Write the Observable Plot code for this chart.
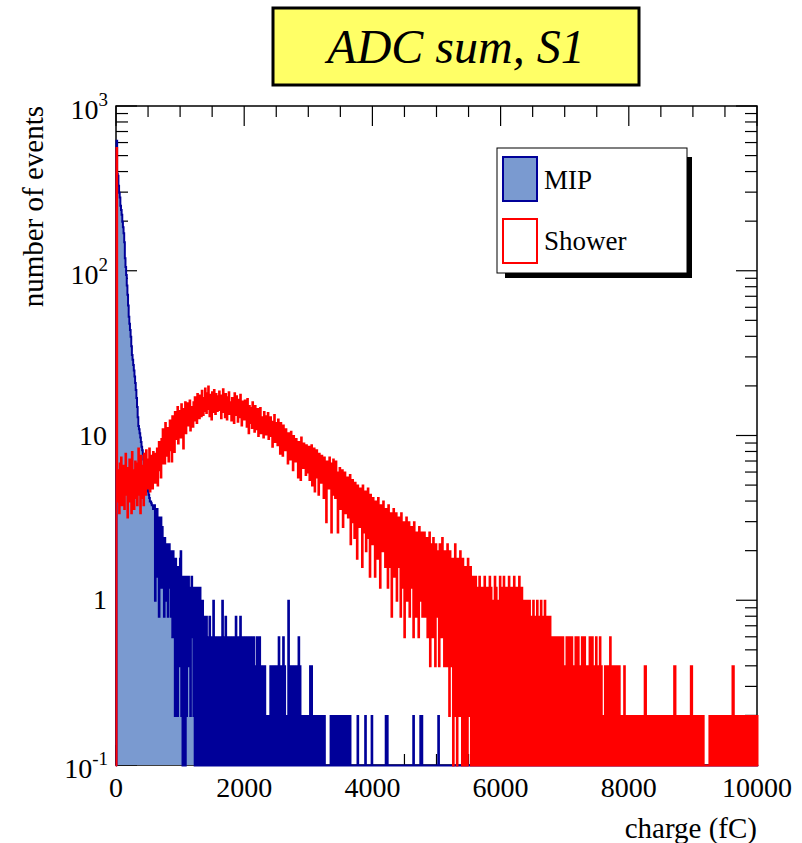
<!DOCTYPE html>
<html><head><meta charset="utf-8">
<script src="https://cdn.jsdelivr.net/npm/d3@7"></script>
<script src="https://cdn.jsdelivr.net/npm/@observablehq/plot@0.6"></script>
<style>body{margin:0;background:#fff;} svg{display:block}</style>
</head><body><div id="chart"></div>
<script>
// ---------------- data ----------------
const binWidth = 10; // fC per bin
const nBins = 1000;  // 0 .. 10000 fC
const seriesNames = ["MIP", "Shower"];
const chartTitle = "ADC sum, S1";
const xLabel = "charge (fC)";
const yLabel = "number of events";
const xDomain = [0, 10000];
const yDomain = [0.1, 1000];
const xMajorTicks = [0, 2000, 4000, 6000, 8000, 10000];
const xTickLabels = ["0", "2000", "4000", "6000", "8000", "10000"];
const xMinorStep = 500;
const yMajorTicks = [0.1, 1, 10, 100, 1000];
const yTickBase = ["10", "1", "10", "10", "10"];
const yTickExp = ["-1", "", "", "2", "3"];

// MIP counts per 10 fC bin from 0 fC (bins after the list are empty)
const mipCounts = [
  620, 390, 380, 330, 300, 280, 250, 235, 220, 200, 185, 170, 150, 120, 106, 95, 82, 72, 62, 53,
  48, 44, 40, 35, 31, 29, 27, 25, 23, 21, 19, 17, 15, 13, 11.5, 11, 10.4, 9.8, 9.2, 8.6,
  8.2, 7.8, 7.2, 6.8, 6.4, 5.8, 5.4, 5.0, 4.8, 4.6, 4.4, 4.2, 4.0, 4.0, 3.9, 3.8, 3.8, 3.6, 3.6, 3.8,
  1.0, 3.4, 2.2, 3.6, 1.4, 3.2, 0.8, 3.0, 2.0, 3.2, 1.2, 2.8, 1.6, 2.2, 0.8, 2.4, 1.4, 2.0, 1.0, 2.2,
  0.8, 1.8, 2.2, 1.2, 2.0, 0.8, 1.8, 0.6, 2.0, 1.0, 1.6, 0.2, 1.8, 0.6, 1.4, 0.2, 1.6, 1.0, 0.4, 1.8,
  2.0, 0.2, 1.4, 0, 1.2, 0.4, 1.4, 0, 1.4, 0.2, 1.2, 0.8, 1.4, 0.4, 1.2, 0.2, 1.0, 1.4, 0.6, 1.2,
  0.2, 1.0, 0, 1.2, 0, 0.8, 1.2, 0, 1.0, 0.4, 1.2, 0, 0.8, 0.2, 1.0, 0, 0.8, 0.6, 0, 0.8,
  0.8, 0, 0.6, 0.4, 0, 0.8, 0.2, 0.6, 0, 0.6, 0.4, 1.0, 0, 0.6, 0.4, 0, 0.6, 0.2, 0.4, 0,
  0.6, 0.4, 0, 0.6, 0.2, 1.0, 0, 0.6, 0.4, 0, 0.8, 0.4, 0, 0.6, 0.2, 0.4, 0, 0.6, 0.4, 0,
  0.6, 0.2, 0, 0.6, 0.4, 0, 0.8, 0.2, 0.6, 0, 0.4, 0.6, 0, 0.8, 0.4, 0, 0.6, 0.2, 0.4, 0,
  0.6, 0.4, 0, 0.6, 0.2, 0.4, 0, 0.6, 0, 0.4, 0.2, 0.6, 0, 0.4, 0.6, 0, 0.2, 0.4, 0, 0.6,
  0.2, 0, 0.4, 0.6, 0, 0.4, 0.2, 0, 0.4, 0, 0.2, 0.4, 0, 0.2, 0, 0.2, 0.2, 0, 0.2, 0,
  0.4, 0, 0.2, 0.4, 0, 0.2, 0.4, 0, 0.4, 0.2, 0, 0.4, 0, 0.6, 0.4, 0, 0.4, 0.2, 0, 0.4,
  0.6, 0, 0.4, 0.2, 0, 0.2, 0, 0.2, 1.0, 0.4, 0, 0.4, 0.2, 0, 0.4, 0.2, 0.4, 0, 0.2, 0,
  0.4, 0, 0.2, 0.4, 0.6, 0, 0.4, 0, 0.2, 0, 0.2, 0, 0.2, 0.2, 0, 0.2, 0, 0.2, 0, 0.2,
  0, 0.2, 0.4, 0, 0.4, 0.2, 0, 0.2, 0, 0.2, 0, 0.2, 0, 0.2, 0.2, 0, 0.2, 0, 0.2, 0,
  0.2, 0, 0.2, 0, 0.2, 0, 0, 0, 0, 0, 0, 0, 0, 0, 0.2, 0, 0.2, 0.2, 0, 0.2,
  0, 0.2, 0, 0.2, 0.2, 0, 0.2, 0, 0.2, 0, 0.2, 0.2, 0, 0.2, 0, 0.2, 0, 0.2, 0, 0.2,
  0.2, 0, 0.2, 0, 0.2, 0, 0, 0, 0, 0, 0, 0, 0, 0, 0, 0, 0.2, 0, 0, 0,
  0, 0, 0, 0, 0, 0, 0, 0, 0.2, 0, 0, 0, 0, 0, 0, 0, 0, 0, 0.2, 0,
  0, 0, 0, 0, 0, 0, 0, 0, 0, 0, 0, 0, 0, 0, 0, 0, 0, 0, 0, 0,
  0.2, 0, 0.2, 0, 0, 0, 0, 0, 0, 0, 0, 0, 0, 0, 0, 0, 0, 0, 0, 0,
  0, 0, 0, 0, 0, 0, 0, 0, 0, 0, 0, 0, 0, 0, 0, 0, 0, 0, 0, 0,
  0, 0, 0, 0.2, 0, 0, 0, 0, 0, 0, 0, 0, 0, 0, 0.2, 0, 0.2, 0, 0, 0,
  0, 0, 0, 0, 0, 0, 0, 0, 0, 0, 0, 0, 0, 0, 0, 0, 0, 0, 0, 0,
  0, 0, 0.2
];

// Shower counts per 10 fC bin, 0 .. 10000 fC
const showerCounts = [
  560, 6.2, 4.0, 5.4, 3.4, 6.8, 4.6, 7.4, 3.8, 5.8, 4.2, 6.6, 3.6, 5.2, 7.8, 4.4, 5.6, 3.2, 6.4, 4.8,
  7.2, 4.0, 5.8, 3.4, 8.0, 4.6, 6.2, 3.6, 5.4, 7.0, 4.2, 6.8, 3.8, 5.2, 8.4, 4.4, 6.0, 3.4, 7.6, 5.0,
  4.2, 6.6, 3.8, 7.8, 5.0, 4.4, 8.2, 5.6, 4.8, 7.2, 5.2, 8.4, 4.6, 6.4, 5.0, 7.6, 4.8, 8.0, 5.4, 6.6,
  5.2, 7.8, 6.0, 8.4, 5.0, 7.0, 9.2, 6.2, 8.0, 5.6, 9.6, 6.8, 11.0, 7.2, 9.0, 6.8, 12.0, 7.6, 10.4, 8.0,
  11.2, 7.0, 9.8, 12.4, 8.2, 10.6, 7.0, 13.2, 9.4, 11.8, 8.0, 14.0, 9.6, 12.6, 10.2, 15.0, 9.0, 12.8, 10.6, 14.2,
  9.8, 15.6, 11.0, 13.8, 8.4, 14.6, 12.0, 16.0, 10.4, 13.4, 15.8, 11.6, 14.2, 12.0, 16.4, 10.8, 15.0, 12.6, 14.8, 11.4,
  16.0, 12.4, 17.2, 13.6, 15.4, 12.0, 18.0, 14.0, 16.6, 12.8, 17.6, 14.6, 13.2, 18.8, 15.0, 13.4, 17.0, 14.2, 19.4, 15.6,
  13.8, 18.2, 14.6, 20.0, 15.4, 13.2, 17.8, 15.0, 12.6, 18.4, 16.2, 14.0, 19.0, 15.6, 13.6, 18.0, 16.4, 14.2, 17.4, 15.2,
  18.6, 14.4, 16.8, 12.8, 17.6, 15.2, 19.2, 14.0, 16.4, 13.0, 18.0, 15.6, 12.6, 17.2, 14.8, 18.4, 13.6, 16.0, 15.2, 12.4,
  17.0, 14.2, 16.0, 12.0, 18.2, 15.0, 13.4, 17.4, 14.6, 12.2, 16.6, 15.4, 13.0, 17.8, 14.0, 11.6, 16.2, 13.8, 15.4, 12.6,
  16.4, 13.0, 15.0, 11.4, 16.8, 13.6, 10.4, 15.2, 13.4, 12.0, 14.8, 11.2, 16.0, 12.6, 14.4, 10.6, 15.2, 12.2, 13.8, 11.0,
  14.6, 10.0, 13.6, 12.0, 14.8, 10.4, 13.0, 11.4, 12.6, 9.8, 14.0, 11.8, 13.2, 10.2, 12.8, 11.0, 13.8, 9.6, 12.4, 10.8,
  13.0, 10.0, 12.2, 8.6, 11.8, 10.4, 13.4, 9.2, 12.0, 10.6, 11.4, 8.8, 12.6, 9.6, 11.0, 7.8, 12.0, 10.2, 11.2, 7.6,
  11.6, 9.0, 10.6, 8.2, 11.0, 9.4, 10.2, 6.8, 10.4, 8.6, 9.8, 7.2, 10.6, 8.4, 9.6, 6.2, 10.0, 7.8, 9.2, 7.0,
  9.6, 7.4, 8.8, 5.6, 9.2, 7.8, 8.4, 5.4, 9.8, 7.0, 8.6, 6.4, 9.0, 7.2, 8.2, 5.8, 8.8, 6.6, 7.8, 6.0,
  8.6, 5.4, 8.0, 6.6, 8.8, 5.0, 7.6, 6.2, 8.4, 4.6, 7.4, 6.0, 8.2, 5.6, 7.0, 4.4, 7.8, 6.2, 7.2, 5.2,
  7.6, 5.8, 6.8, 4.2, 7.4, 5.4, 6.6, 3.0, 7.0, 5.6, 6.4, 4.8, 7.4, 5.2, 6.2, 2.6, 6.8, 5.0, 7.2, 4.4,
  6.6, 4.2, 7.0, 5.0, 6.0, 2.6, 5.8, 4.4, 6.4, 3.6, 5.6, 4.0, 6.2, 2.8, 5.4, 4.6, 6.0, 3.4, 5.2, 3.8,
  5.6, 3.2, 5.0, 4.2, 5.8, 2.2, 4.8, 3.6, 5.4, 3.0, 4.6, 2.4, 5.2, 3.8, 4.4, 1.8, 5.0, 3.4, 4.6, 2.8,
  4.8, 3.0, 4.4, 1.6, 5.0, 3.4, 4.2, 2.6, 4.6, 2.0, 4.0, 3.2, 4.8, 2.4, 3.8, 1.4, 4.4, 3.0, 4.0, 2.2,
  4.2, 2.6, 3.6, 1.4, 4.0, 2.8, 3.4, 1.8, 4.2, 2.4, 3.6, 1.2, 3.8, 2.6, 3.2, 2.0, 4.0, 2.2, 3.4, 1.6,
  3.6, 2.2, 3.2, 1.2, 3.8, 2.4, 3.0, 1.6, 3.4, 0.8, 3.2, 2.0, 3.6, 1.4, 2.8, 2.2, 3.4, 1.0, 3.0, 1.8,
  3.2, 1.6, 3.0, 0.8, 3.4, 1.8, 2.6, 1.2, 3.0, 0.6, 2.8, 1.6, 3.2, 1.0, 2.4, 1.8, 3.0, 0.8, 2.6, 1.4,
  2.8, 1.2, 2.6, 0.6, 3.0, 1.4, 2.2, 0.8, 2.6, 1.6, 2.4, 0.6, 2.8, 1.0, 2.0, 1.4, 2.6, 0.8, 2.2, 1.2,
  2.6, 0.8, 2.2, 1.2, 2.4, 0.6, 2.0, 1.4, 2.6, 0.4, 2.2, 1.0, 1.8, 0.6, 2.4, 1.2, 2.0, 0.4, 2.2, 1.0,
  2.0, 0.8, 1.8, 0.4, 2.2, 1.0, 1.6, 0.6, 2.4, 0.8, 1.8, 0.4, 2.0, 1.2, 1.6, 0.4, 2.2, 0.6, 1.8, 0.2,
  2.0, 0.4, 1.6, 0.8, 1.8, 0, 1.4, 0.6, 2.2, 0.2, 1.6, 0, 1.8, 0.6, 1.4, 0.2, 2.0, 0.4, 1.6, 0,
  1.8, 0.4, 1.2, 0, 1.6, 0.6, 1.4, 0, 1.8, 0.2, 1.2, 0.4, 1.6, 0, 1.0, 0.6, 1.4, 0, 1.2, 0.2,
  1.4, 0, 1.2, 0.4, 1.0, 0, 1.4, 0.2, 0.8, 0, 1.2, 0.4, 1.0, 0, 1.4, 0, 0.8, 0.4, 1.2, 0,
  1.0, 0.2, 1.4, 0, 1.2, 0.4, 0.8, 0, 1.0, 0, 1.4, 0.2, 1.2, 0, 0.8, 0.4, 1.0, 0, 1.4, 0,
  1.2, 0, 1.0, 0.4, 1.4, 0, 0.8, 0.2, 1.2, 0, 1.0, 0, 1.4, 0.4, 0.8, 0, 1.2, 0.2, 1.0, 0,
  1.4, 0, 0.8, 0.2, 1.2, 0, 1.0, 0.4, 1.4, 0, 0.8, 0, 1.2, 0.2, 1.0, 0, 0.6, 0.4, 1.0, 0,
  1.0, 0, 0.6, 0.2, 1.0, 0, 0.8, 0, 0.6, 0.4, 1.0, 0, 0.8, 0.2, 0.6, 0, 1.0, 0, 0.8, 0.2,
  0.6, 0, 1.0, 0.2, 0.8, 0, 0.6, 0, 1.0, 0.4, 0.6, 0, 0.8, 0, 0.6, 0.2, 0.8, 0, 0.6, 0,
  0.6, 0.2, 0.4, 0, 0.6, 0, 0.4, 0.2, 0.6, 0, 0.4, 0, 0.6, 0.2, 0.4, 0, 0.6, 0, 0.4, 0,
  0.4, 0.2, 0.6, 0, 0.4, 0, 0.6, 0.2, 0.4, 0, 0.6, 0, 0.4, 0.2, 0.4, 0, 0.6, 0, 0.2, 0,
  0.6, 0, 0.4, 0.2, 0.4, 0, 0.6, 0, 0.2, 0.4, 0.6, 0, 0.4, 0, 0.2, 0, 0.4, 0.2, 0.6, 0,
  0.4, 0, 0.6, 0.2, 0.4, 0, 0.2, 0.4, 0.6, 0, 0.4, 0, 0.2, 0, 0.6, 0.4, 0.4, 0, 0.2, 0,
  0.2, 0, 0.4, 0.2, 0, 0.2, 0.4, 0, 0.2, 0, 0.6, 0.4, 0.4, 0, 0.2, 0, 0.4, 0.2, 0.2, 0,
  0.4, 0, 0.2, 0, 0.4, 0.2, 0, 0.2, 0, 0.2, 0.2, 0, 0.4, 0, 0.2, 0, 0.2, 0.2, 0, 0.2,
  0, 0.2, 0, 0.2, 0.2, 0, 0.2, 0, 0.2, 0, 0.2, 0.2, 0, 0.2, 0, 0.2, 0, 0.2, 0.2, 0,
  0.2, 0, 0.2, 0, 0.4, 0.4, 0, 0.2, 0, 0.2, 0.2, 0, 0.2, 0, 0.2, 0, 0.2, 0.2, 0, 0.2,
  0, 0.2, 0, 0, 0.2, 0, 0.2, 0.2, 0, 0.2, 0, 0.2, 0, 0.2, 0.2, 0, 0.2, 0, 0.2, 0,
  0.2, 0, 0.2, 0.2, 0, 0.2, 0, 0.2, 0, 0.2, 0.4, 0.4, 0, 0.2, 0, 0.2, 0.2, 0, 0.2, 0,
  0.2, 0, 0.2, 0, 0.2, 0.2, 0, 0.2, 0, 0.2, 0, 0.2, 0, 0.2, 0.2, 0, 0.4, 0.4, 0, 0.2,
  0, 0.2, 0, 0.2, 0.2, 0, 0.2, 0, 0.2, 0, 0.2, 0.2, 0, 0.2, 0, 0.2, 0, 0, 0, 0,
  0, 0, 0, 0, 0, 0.2, 0, 0.2, 0.2, 0, 0.2, 0, 0.2, 0, 0.2, 0.2, 0, 0.2, 0, 0.2,
  0, 0.2, 0.2, 0, 0.2, 0, 0.2, 0, 0.2, 0.2, 0, 0.2, 0, 0.2, 0, 0.2, 0.2, 0, 0.2, 0,
  0.2, 0.4, 0.4, 0, 0.2, 0, 0.2, 0.2, 0, 0.2, 0, 0.2, 0, 0.2, 0.2, 0, 0.2, 0, 0.2, 0,
  0.2, 0, 0.2, 0.2, 0, 0.2, 0, 0.2, 0, 0.2, 0.2, 0, 0.2, 0, 0.2, 0, 0.2, 0.2, 0, 0.2
];

// ---------------- build step outlines ----------------
const floorY = yDomain[0];
function stepPoints(counts) {
  const pts = [{x: 0, y: floorY}];
  for (let i = 0; i < nBins; i++) {
    const c = i < counts.length ? counts[i] : 0;
    const v = Math.max(c, floorY);
    pts.push({x: i * binWidth, y: v}, {x: (i + 1) * binWidth, y: v});
  }
  pts.push({x: nBins * binWidth, y: floorY});
  return pts;
}
const mipPts = stepPoints(mipCounts);
const showerPts = stepPoints(showerCounts);

const FONT = "'Liberation Serif', 'Times New Roman', serif";
const mipFill = "#7a9ad0", mipLine = "#000099", showerLine = "#ff0000";

// frame + ticks (drawn below data)
function frameAndTicks(index, scales, values, dim) {
  const {x, y} = scales;
  const L = dim.marginLeft, R = dim.width - dim.marginRight;
  const T = dim.marginTop, B = dim.height - dim.marginBottom;
  const g = d3.create("svg:g").attr("stroke", "#000").attr("fill", "none");
  g.append("rect").attr("x", L).attr("y", T).attr("width", R - L).attr("height", B - T).attr("stroke-width", 1.5);
  const tg = g.append("g").attr("stroke-width", 1.2);
  d3.range(xDomain[0], xDomain[1] + 1, xMinorStep).forEach(v => {
    const len = xMajorTicks.includes(v) ? 20 : 11;
    const px = x(v);
    tg.append("line").attr("x1", px).attr("x2", px).attr("y1", T).attr("y2", T + len);
    tg.append("line").attr("x1", px).attr("x2", px).attr("y1", B).attr("y2", B - len);
  });
  const yTicks = [];
  yMajorTicks.forEach((d, i) => {
    yTicks.push([d, true]);
    if (i < yMajorTicks.length - 1) for (let k = 2; k <= 9; k++) yTicks.push([d * k, false]);
  });
  yTicks.forEach(([v, major]) => {
    const len = major ? 21 : 12;
    const py = y(v);
    tg.append("line").attr("x1", L).attr("x2", L + len).attr("y1", py).attr("y2", py);
    tg.append("line").attr("x1", R).attr("x2", R - len).attr("y1", py).attr("y2", py);
  });
  return g.node();
}

// labels, title, legend (drawn above data)
function decorations(index, scales, values, dim) {
  const {x, y} = scales;
  const L = dim.marginLeft, R = dim.width - dim.marginRight;
  const T = dim.marginTop, B = dim.height - dim.marginBottom;
  const g = d3.create("svg:g").attr("font-family", FONT).attr("fill", "#000").attr("text-anchor", "start");
  xMajorTicks.forEach((v, i) => {
    g.append("text").attr("x", x(v)).attr("y", B + 32).attr("text-anchor", "middle")
      .attr("font-size", 28).text(xTickLabels[i]);
  });
  yMajorTicks.forEach((v, i) => {
    const py = y(v);
    if (yTickExp[i]) {
      const t = g.append("text").attr("x", L - 8).attr("y", py + 13).attr("text-anchor", "end").attr("font-size", 28);
      t.append("tspan").text(yTickBase[i]);
      t.append("tspan").attr("dy", -13).attr("font-size", 19).text(yTickExp[i]);
    } else {
      g.append("text").attr("x", L - 9).attr("y", py + 9).attr("text-anchor", "end").attr("font-size", 28).text(yTickBase[i]);
    }
  });
  g.append("text").attr("x", R).attr("y", B + 73).attr("text-anchor", "end").attr("font-size", 29).text(xLabel);
  g.append("text").attr("transform", `translate(43,${T}) rotate(-90)`).attr("text-anchor", "end")
    .attr("font-size", 29).text(yLabel);
  // title box
  g.append("rect").attr("x", 273).attr("y", 8).attr("width", 366).attr("height", 77)
    .attr("fill", "#ffff66").attr("stroke", "#000").attr("stroke-width", 3);
  g.append("text").attr("x", 456).attr("y", 63).attr("text-anchor", "middle")
    .attr("font-size", 48).attr("font-style", "italic").text(chartTitle);
  // legend
  g.append("rect").attr("x", 505).attr("y", 157).attr("width", 187).attr("height", 121).attr("fill", "#000");
  g.append("rect").attr("x", 497).attr("y", 148).attr("width", 190).attr("height", 125)
    .attr("fill", "#fff").attr("stroke", "#000").attr("stroke-width", 1);
  g.append("rect").attr("x", 503).attr("y", 157).attr("width", 34).attr("height", 44)
    .attr("fill", mipFill).attr("stroke", mipLine).attr("stroke-width", 2);
  g.append("rect").attr("x", 503).attr("y", 219).attr("width", 34).attr("height", 44)
    .attr("fill", "#fff").attr("stroke", showerLine).attr("stroke-width", 2);
  g.append("text").attr("x", 544).attr("y", 189).attr("text-anchor", "start").attr("font-size", 27).text(seriesNames[0]);
  g.append("text").attr("x", 544).attr("y", 250).attr("text-anchor", "start").attr("font-size", 27).text(seriesNames[1]);
  return g.node();
}

const chart = Plot.plot({
  width: 802,
  height: 843,
  marginLeft: 116,
  marginRight: 45,
  marginTop: 106,
  marginBottom: 78,
  style: {background: "#fff", fontFamily: FONT},
  x: {domain: xDomain, axis: null},
  y: {type: "log", domain: yDomain, axis: null},
  marks: [
    frameAndTicks,
    Plot.areaY(mipPts, {x: "x", y1: floorY, y2: "y", fill: mipFill, curve: "linear"}),
    Plot.line(mipPts, {x: "x", y: "y", stroke: mipLine, strokeWidth: 2, strokeLinejoin: "miter", strokeMiterlimit: 2, curve: "linear"}),
    Plot.line(showerPts, {x: "x", y: "y", stroke: showerLine, strokeWidth: 2, strokeLinejoin: "miter", strokeMiterlimit: 2, curve: "linear"}),
    decorations
  ]
});
document.getElementById("chart").appendChild(chart);
</script>
</body></html>
